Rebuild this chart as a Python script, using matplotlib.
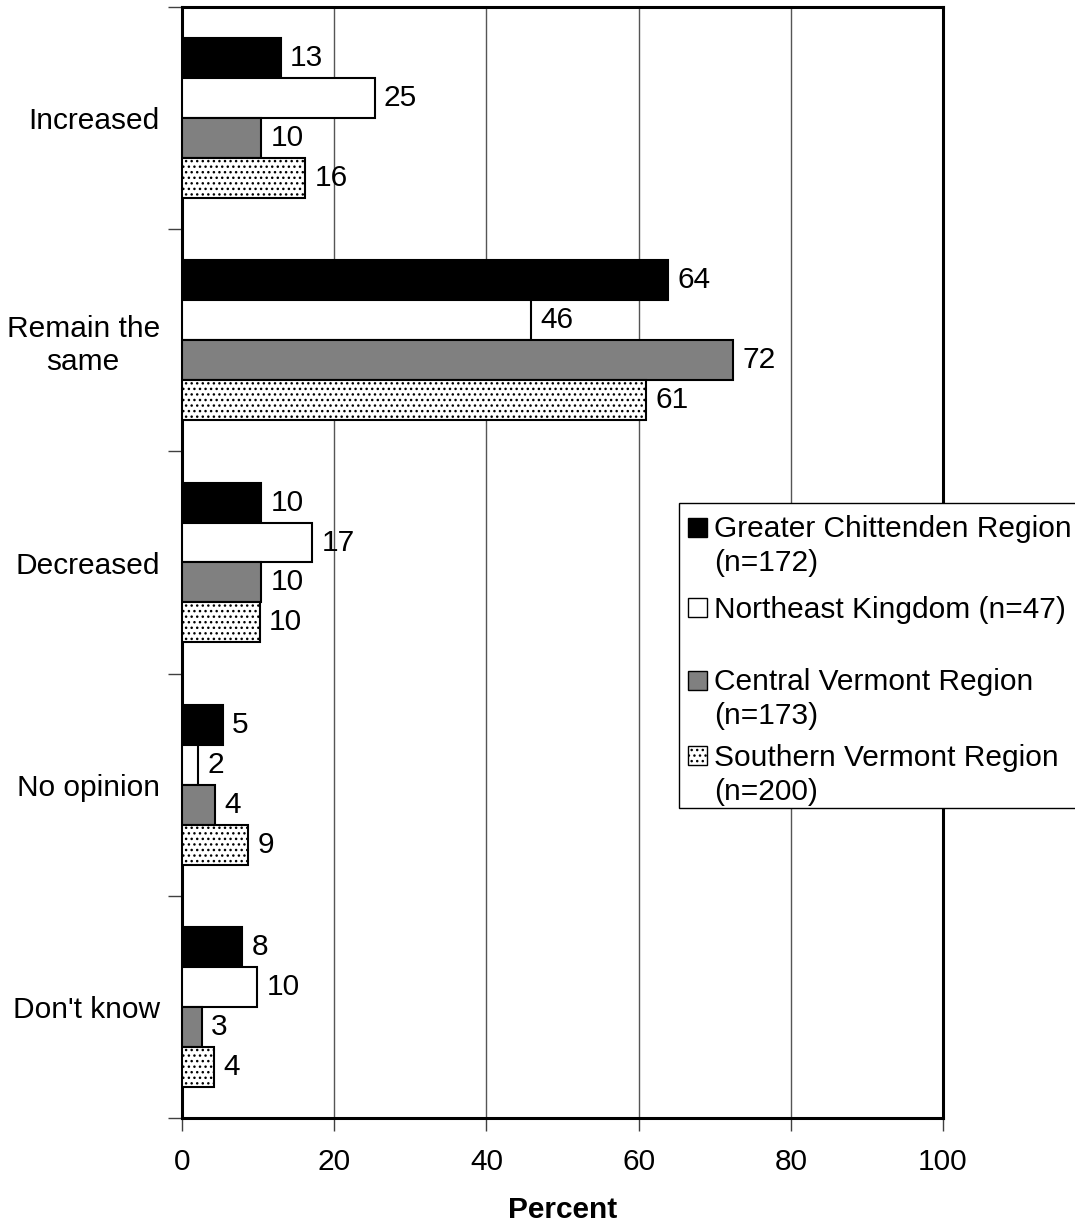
import matplotlib
matplotlib.use("Agg")
import matplotlib.pyplot as plt
from matplotlib.patches import Rectangle
import numpy as np

plt.rcParams['font.family'] = ['Liberation Sans', 'DejaVu Sans']
plt.rcParams['hatch.color'] = '#333333'
plt.rcParams['hatch.linewidth'] = 1.0

categories = ["Increased", "Remain the\nsame", "Decreased", "No opinion", "Don't know"]
series_names = ["Greater Chittenden Region\n(n=172)",
                "Northeast Kingdom (n=47)",
                "Central Vermont Region\n(n=173)",
                "Southern Vermont Region\n(n=200)"]
chittenden = [13.0, 63.9, 10.4, 5.4, 7.9]
northeast = [25.3, 45.9, 17.1, 2.1, 9.9]
central = [10.4, 72.4, 10.4, 4.4, 2.6]
southern = [16.2, 61.0, 10.2, 8.7, 4.2]
value_labels = [
    ["13", "64", "10", "5", "8"],
    ["25", "46", "17", "2", "10"],
    ["10", "72", "10", "4", "3"],
    ["16", "61", "10", "9", "4"],
]
xticks = [0, 20, 40, 60, 80, 100]

series = [chittenden, northeast, central, southern]
faces = ["black", "white", "#808080", "white"]
hatches = [None, None, None, "..."]

FS = 21.5
W, H = 1075, 1226
fig = plt.figure(figsize=(W/100, H/100), dpi=100)
ax = fig.add_axes([182/W, 108/H, (943-182)/W, (1118-7)/H])

n_cat = len(categories)
bar_h = 0.18
ypos = np.arange(n_cat)
for i, (vals, fc, ht, labs) in enumerate(zip(series, faces, hatches, value_labels)):
    y = ypos - 1.5*bar_h + i*bar_h
    ax.barh(y, vals, height=bar_h, color=fc, edgecolor="black",
            linewidth=1.5, hatch=ht, zorder=3, label=series_names[i])
    for yy, v, lab in zip(y, vals, labs):
        ax.text(v + 1.2, yy, lab, va="center", ha="left", fontsize=FS, zorder=4)

ax.set_ylim(n_cat - 0.5, -0.5)
ax.set_xlim(0, 100)
ax.set_xticks(xticks)
ax.set_xticklabels([str(t) for t in xticks], fontsize=FS)
ax.set_yticks(ypos)
ax.set_yticklabels(categories, fontsize=FS, multialignment="center")
ax.tick_params(axis="y", length=0, pad=16)
ax.set_yticks(np.arange(n_cat + 1) - 0.5, minor=True)
ax.tick_params(axis="y", which="minor", length=10, width=1.0, direction="out", color="#404040")
ax.tick_params(axis="x", length=9, width=1.0, direction="out", pad=12.5, color="#404040")
ax.xaxis.grid(True, color="#555555", linewidth=1.0, zorder=0)
ax.set_axisbelow(True)
for s in ax.spines.values():
    s.set_linewidth(2.2)
    s.set_color("black")
ax.set_xlabel("Percent", fontsize=FS, fontweight="bold", labelpad=14.5)

# Legend (drawn manually so the key sits beside the first text line)
def fy(py):
    return 1 - py / H

frame = Rectangle((679/W, fy(808)), (W + 10 - 679)/W, (808 - 503)/H,
                  transform=fig.transFigure, facecolor="white", edgecolor="black",
                  linewidth=1.0, zorder=10)
fig.add_artist(frame)
line_centers = [[527, 560], [607], [680, 714], [755, 789]]
for name, fc, ht, centers in zip(series_names, faces, hatches, line_centers):
    c0 = centers[0]
    sq = 19
    fig.add_artist(Rectangle((688/W, fy(c0 + sq/2)), sq/W, sq/H,
                             transform=fig.transFigure, facecolor=fc, edgecolor="black",
                             linewidth=1.0, hatch=ht, zorder=11))
    for line, c in zip(name.split("\n"), centers):
        fig.text(714/W, fy(c + 10.5), line, fontsize=FS, ha="left", va="baseline", zorder=12)

fig.savefig("out.png", dpi=100)
